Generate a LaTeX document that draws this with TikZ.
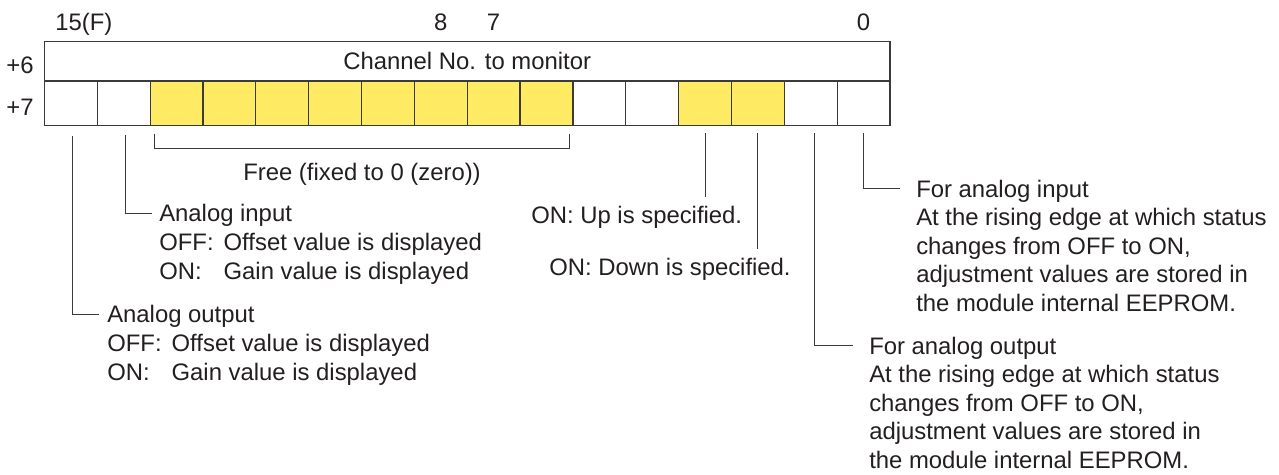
\documentclass[tikz,border=0pt]{standalone}
\usepackage{fontspec}
\setmainfont{Liberation Sans}
\usepackage{calc}
\definecolor{ink}{HTML}{231F20}
\definecolor{rulegray}{HTML}{3A3A3A}
\definecolor{cellyellow}{HTML}{FFEB63}
\newcommand{\offmark}{OFF:\hspace{0.42em}}
\newcommand{\onmark}{\makebox[\widthof{\offmark}][l]{ON:}}
\begin{document}
\begin{tikzpicture}[x=0.75pt, y=-0.75pt, text=ink,
  font=\fontsize{17.9pt}{21.45pt}\selectfont,
  cell/.style={draw=rulegray, line width=0.9pt, inner sep=0pt, outer sep=0pt,
    minimum width=39.64pt, minimum height=33.2pt, anchor=north west},
  lbl/.style={inner sep=0pt},
  note/.style={inner sep=0pt, anchor=north west, align=left},
  lead/.style={draw=rulegray, line width=0.75pt}]
  \useasboundingbox (0,0) rectangle (1279,475);
  % 第 +6 字
  \node[cell, minimum width=634.2pt, minimum height=29.5pt] (w6) at (44.4,41.7) {Channel No. to monitor};
  % 第 +7 字的各位
  \foreach \bit/\fillc in {15/white,14/white,13/cellyellow,12/cellyellow,11/cellyellow,10/cellyellow,
    9/cellyellow,8/cellyellow,7/cellyellow,6/cellyellow,5/white,4/white,3/cellyellow,2/cellyellow,1/white,0/white}{
    \node[cell, fill=\fillc] (b\bit) at ({44.4+52.85*(15-\bit)},81) {};
  }
  % 位号与字号
  \node[lbl, anchor=base west] (h15) at (55,30.5) {15(F)};
  \node[lbl, anchor=base] (h8) at (b8.north |- h15.base) {8};
  \node[lbl, anchor=base] (h7) at (b7.north |- h15.base) {7};
  \node[lbl, anchor=base] (h0) at (b0.north |- h15.base) {0};
  \node[lbl, anchor=base] (r6) at (20,73) {+6};
  \node[lbl, anchor=base] (r7) at (20,115) {+7};
  % 说明文字
  \node[lbl, anchor=north] (free) at (362,163.4) {Free (fixed to 0 (zero))};
  \node[note] (ain) at (159,204.4) {Analog input\\\offmark Offset value is displayed\\\onmark Gain value is displayed};
  \node[note] (aout) at (107,305.4) {Analog output\\\offmark Offset value is displayed\\\onmark Gain value is displayed};
  \node[note] (up) at (531,206) {ON: Up is specified.};
  \node[note] (down) at (549,258) {ON: Down is specified.};
  \node[note] (adin) at (916,179.5) {For analog input\\At the rising edge at which status\\changes from OFF to ON,\\adjustment values are stored in\\the module internal EEPROM.};
  \node[note] (adout) at (869,336.5) {For analog output\\At the rising edge at which status\\changes from OFF to ON,\\adjustment values are stored in\\the module internal EEPROM.};
  % 括号（空闲位）
  \draw[lead] ([xshift=3pt,yshift=-6.2pt]b13.south west) -- ([xshift=3pt,yshift=-17.4pt]b13.south west)
    -- ([xshift=-2.25pt,yshift=-17.4pt]b6.south east) -- ([xshift=-2.25pt,yshift=-6.2pt]b6.south east);
  % 引出线
  \draw[lead] ([xshift=1.5pt,yshift=-8pt]b15.south) |- ([xshift=-6pt,yshift=-6.6pt]aout.north west);
  \draw[lead] ([xshift=1pt,yshift=-7pt]b14.south) |- ([xshift=-5.25pt,yshift=-6.6pt]ain.north west);
  \draw[lead] ([yshift=-6pt]b3.south) -- ([yshift=6.75pt]b3.south |- up.north);
  \draw[lead] ([yshift=-6pt]b2.south) -- ([yshift=6.75pt]b2.south |- down.north);
  \draw[lead] ([xshift=3pt,yshift=-6pt]b1.south) |- ([xshift=-12pt,yshift=-6.6pt]adout.north west);
  \draw[lead] ([yshift=-6pt]b0.south) |- ([xshift=-12pt,yshift=-6.6pt]adin.north west);
\end{tikzpicture}
\end{document}
